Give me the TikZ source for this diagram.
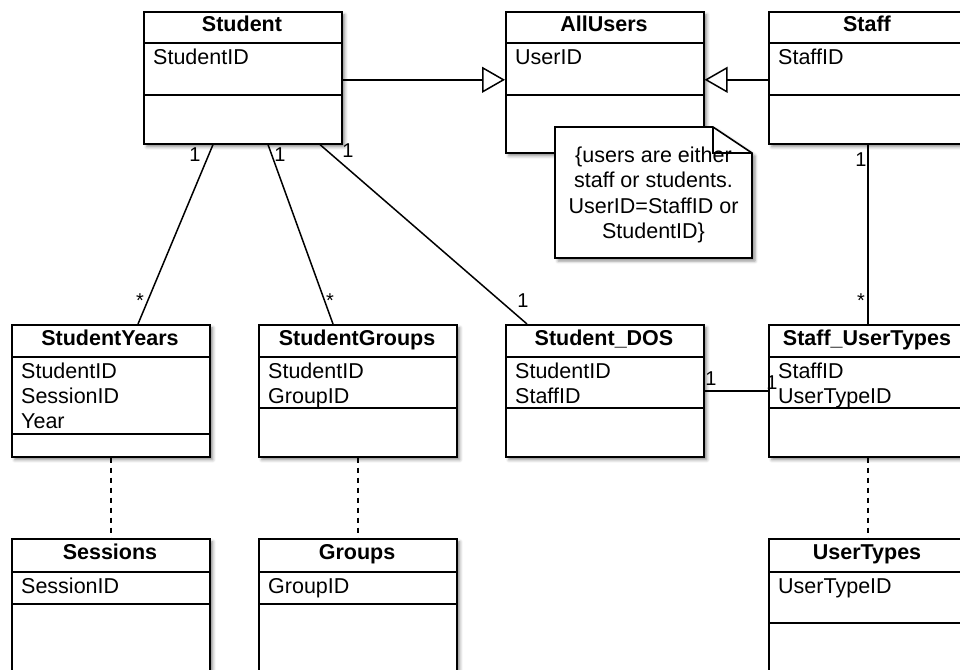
\documentclass[tikz,border=0pt]{standalone}
\usepackage{fontspec}
\setmainfont{Liberation Sans}
\usetikzlibrary{arrows.meta,shadows.blur}

\tikzset{
  boxshadow/.style={blur shadow={shadow xshift=3pt, shadow yshift=-3pt,
      shadow blur radius=3pt, shadow opacity=45}},
  classbox/.style={draw, line width=1.6pt, fill=white, anchor=north west,
      minimum width=198pt, inner sep=0pt, boxshadow},
  rule/.style={line width=1.5pt},
  ctitle/.style={anchor=base, inner sep=0pt, font=\fontsize{21.5}{25}\selectfont\bfseries},
  cattr/.style={anchor=base west, inner sep=0pt, font=\fontsize{21.5}{25}\selectfont},
  notetext/.style={anchor=base, inner sep=0pt, font=\fontsize{21.5}{25}\selectfont},
  mult/.style={anchor=base, inner sep=0pt, font=\fontsize{20}{24}\selectfont},
  assoc/.style={line width=1.5pt},
  gen/.style={line width=1.5pt, -{Triangle[open, length=23pt, width=26pt, line width=1.5pt]}},
  dep/.style={line width=1.6pt, dash pattern=on 5pt off 5pt},
}

% name, left x, top y, header rule y, compartment rule y, bottom y, title, attributes
\newcommand\umlclass[8]{%
  \node[classbox, minimum height={(#6-#3)*1pt}] (#1) at (#2,#3) {};
  \draw[rule] (#2,#4) -- ++(198,0);
  \draw[rule] (#2,#5) -- ++(198,0);
  \node[ctitle] (#1-title) at (#2+99,#3+21) {#7};
  \foreach \attrtext [count=\k] in {#8}
    {\node[cattr] (#1-attr\k) at (#2+10,#4+21.5+25*\k-25) {\attrtext};}
}

\begin{document}
\begin{tikzpicture}[x=1pt, y=-1pt]
\useasboundingbox (0,0) rectangle (960,669);
\clip (0,0) rectangle (960,669);

% top row
\umlclass{student}{143}{11}{43}{95}{143}{Student}{StudentID}
\umlclass{allusers}{505}{11}{43}{95}{152}{AllUsers}{UserID}
\umlclass{staff}{768}{11}{43}{95}{143}{Staff}{StaffID}

% middle row
\umlclass{syears}{11}{324}{357}{434}{456}{StudentYears}{StudentID,SessionID,Year}
\umlclass{sgroups}{258}{324}{357}{408}{456}{StudentGroups}{StudentID,GroupID}
\umlclass{sdos}{505}{324}{357}{408}{456}{Student\_DOS}{StudentID,StaffID}
\umlclass{sut}{768}{324}{357}{408}{456}{Staff\_UserTypes}{StaffID,UserTypeID}

% bottom row
\umlclass{sessions}{11}{538}{572}{604}{720}{Sessions}{SessionID}
\umlclass{groups}{258}{538}{572}{604}{720}{Groups}{GroupID}
\umlclass{usertypes}{768}{538}{572}{623}{720}{UserTypes}{UserTypeID}

% generalisations
\draw[gen] ([yshift=-2pt]student.east) -- ([yshift=-2pt]student.east -| allusers.west);
\draw[gen] ([yshift=-2pt]staff.west) -- ([yshift=-2pt]staff.west -| allusers.east);

% note attached to AllUsers
\filldraw[line width=1.6pt, fill=white, boxshadow]
  (555,127) -- (713,127) -- (752,153) -- (752,258) -- (555,258) -- cycle;
\node[notetext] (note1) at (653.5,162) {\{users are either};
\node[notetext] (note2) at (653.5,187) {staff or students.};
\node[notetext] (note3) at (653.5,213) {UserID=StaffID or};
\node[notetext] (note4) at (653.5,238) {StudentID\}};
\draw[line width=1.6pt] (713,127) -- (713,153) -- (752,153);

% associations
\draw[assoc] ([xshift=70pt]student.south west) -- ([xshift=127pt]syears.north west);
\draw[assoc] ([xshift=125pt]student.south west) -- ([xshift=75pt]sgroups.north west);
\draw[assoc] ([xshift=177pt]student.south west) -- ([xshift=22pt]sdos.north west);
\draw[assoc] (staff.south) -- (sut.north);
\draw[assoc] (sdos.east) -- (sut.west);

% multiplicities
\node[mult] (m1) at (195,161) {1};
\node[mult] (m2) at (140,307) {*};
\node[mult] (m3) at (280,161) {1};
\node[mult] (m4) at (330,307) {*};
\node[mult] (m5) at (348,157) {1};
\node[mult] (m6) at (523,307) {1};
\node[mult] (m7) at (861,166) {1};
\node[mult] (m8) at (861,307.5) {*};
\node[mult] (m9) at (711,385) {1};
\node[mult] (m10) at (772,389) {1};

% dependencies
\draw[dep] (syears.south) -- (sessions.north);
\draw[dep] (sgroups.south) -- (groups.north);
\draw[dep] (sut.south) -- (usertypes.north);
\end{tikzpicture}
\end{document}
